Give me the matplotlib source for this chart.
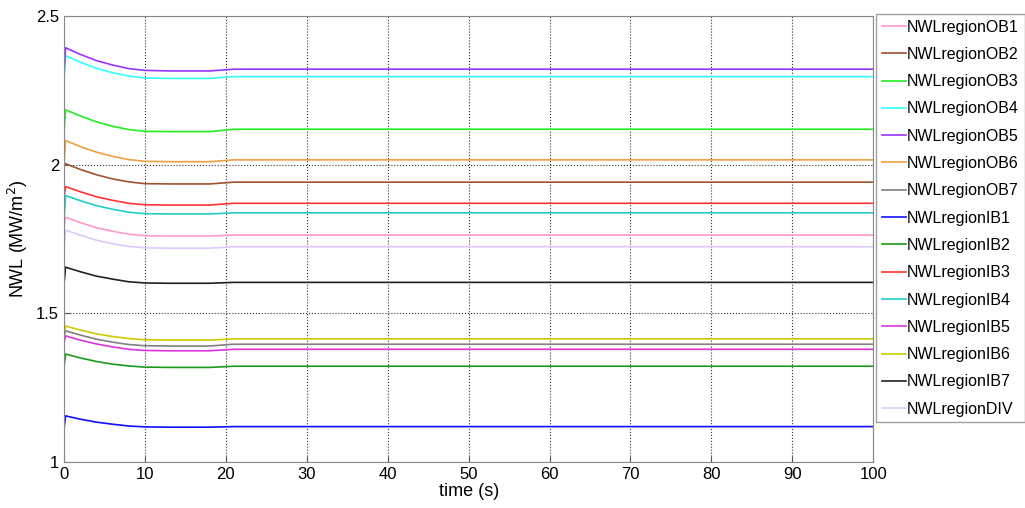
import matplotlib
matplotlib.use("Agg")
import matplotlib.pyplot as plt

plt.rcParams['font.family'] = ['Liberation Sans', 'DejaVu Sans']

# time points (s)
t = [0, 0.2, 2, 4, 6, 8, 10, 13, 18, 21, 100]

# NWL per region (MW/m^2)
ob1 = [1.790, 1.823, 1.805, 1.788, 1.776, 1.766, 1.761, 1.760, 1.760, 1.763, 1.763]
ob2 = [1.995, 2.003, 1.984, 1.966, 1.952, 1.942, 1.936, 1.935, 1.935, 1.941, 1.941]
ob3 = [2.105, 2.184, 2.164, 2.144, 2.129, 2.118, 2.112, 2.111, 2.111, 2.119, 2.119]
ob4 = [2.279, 2.366, 2.345, 2.324, 2.309, 2.298, 2.291, 2.290, 2.290, 2.296, 2.296]
ob5 = [2.300, 2.393, 2.371, 2.350, 2.335, 2.323, 2.317, 2.315, 2.315, 2.321, 2.321]
ob6 = [2.000, 2.081, 2.061, 2.042, 2.028, 2.017, 2.011, 2.010, 2.010, 2.016, 2.016]
ob7 = [1.420, 1.441, 1.427, 1.413, 1.403, 1.395, 1.391, 1.390, 1.390, 1.396, 1.396]
ib1 = [1.110, 1.155, 1.144, 1.134, 1.127, 1.121, 1.118, 1.117, 1.117, 1.119, 1.119]
ib2 = [1.316, 1.363, 1.350, 1.338, 1.329, 1.323, 1.319, 1.318, 1.318, 1.322, 1.322]
ib3 = [1.890, 1.926, 1.909, 1.892, 1.880, 1.870, 1.865, 1.864, 1.864, 1.870, 1.870]
ib4 = [1.810, 1.896, 1.879, 1.862, 1.850, 1.840, 1.835, 1.834, 1.834, 1.838, 1.838]
ib5 = [1.400, 1.424, 1.410, 1.397, 1.387, 1.379, 1.375, 1.374, 1.374, 1.379, 1.379]
ib6 = [1.430, 1.457, 1.444, 1.431, 1.422, 1.415, 1.411, 1.410, 1.410, 1.414, 1.414]
ib7 = [1.595, 1.655, 1.640, 1.625, 1.615, 1.606, 1.602, 1.601, 1.601, 1.604, 1.604]
div = [1.710, 1.780, 1.763, 1.746, 1.734, 1.725, 1.720, 1.719, 1.719, 1.724, 1.724]

series = [ob1, ob2, ob3, ob4, ob5, ob6, ob7, ib1, ib2, ib3, ib4, ib5, ib6, ib7, div]
names = ['NWLregionOB1', 'NWLregionOB2', 'NWLregionOB3', 'NWLregionOB4', 'NWLregionOB5',
         'NWLregionOB6', 'NWLregionOB7', 'NWLregionIB1', 'NWLregionIB2', 'NWLregionIB3',
         'NWLregionIB4', 'NWLregionIB5', 'NWLregionIB6', 'NWLregionIB7', 'NWLregionDIV']
colors = ['#ff99cc', '#a0522d', '#22ee22', '#33ffff', '#9933ff', '#f0a040', '#808080',
          '#1010ff', '#1a9a1a', '#ff3333', '#22cccc', '#dd33dd', '#cccc00', '#222222', '#e0c8ff']

fig = plt.figure(figsize=(10.25, 5.08), dpi=100)
ax = fig.add_axes([0.0624, 0.0906, 0.7896, 0.878])

for y, n, c in zip(series, names, colors):
    ax.plot(t, y, color=c, lw=1.2, label=n)

ax.set_xlim(0, 100)
ax.set_ylim(1, 2.5)
ax.set_xticks(range(0, 101, 10))
ax.set_yticks([1, 1.5, 2, 2.5])
ax.set_yticklabels(['1', '1.5', '2', '2.5'], fontsize=12)
ax.set_xticklabels([str(v) for v in range(0, 101, 10)], fontsize=12)
ax.grid(True, color='#333333', ls=':', lw=0.8)
ax.tick_params(direction='in', length=4, color='#555555')
for s in ax.spines.values():
    s.set_color('#888888')

ax.set_xlabel('time (s)', fontsize=13, labelpad=1)
ax.set_ylabel('NWL (MW/m$^2$)', fontsize=13, labelpad=4)

leg = fig.legend(loc='upper left', bbox_to_anchor=(876 / 1025, 1 - 14 / 508), fontsize=11.5,
                 handlelength=1.5, handletextpad=0.1, labelspacing=0.77,
                 fancybox=False, edgecolor='#888888', borderaxespad=0, borderpad=0.35)
leg.get_frame().set_linewidth(1.0)

fig.savefig('out.png', dpi=100)
